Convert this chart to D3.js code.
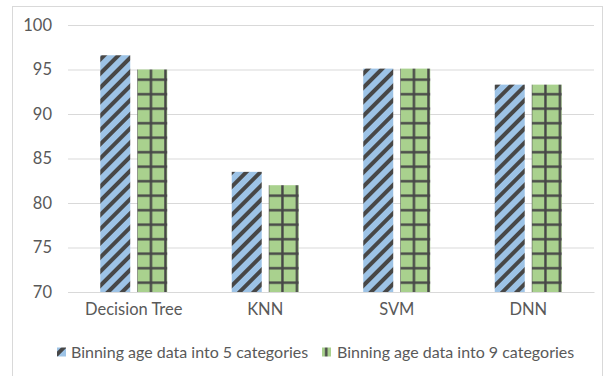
<!DOCTYPE html>
<html>
<head>
<meta charset="utf-8">
<script src="https://cdn.jsdelivr.net/npm/d3@7"></script>
<style>
  html, body { margin: 0; padding: 0; background: #fff; }
  svg { display: block; font-family: Lato, "Open Sans", sans-serif; }
</style>
</head>
<body>
<svg id="chart" width="614" height="376"></svg>
<script>
// Model accuracy (%) for two age-binning strategies
const categories = ["Decision Tree", "KNN", "SVM", "DNN"];
const seriesNames = ["Binning age data into 5 categories", "Binning age data into 9 categories"];
const fiveBins = [96.6, 83.5, 95.1, 93.3];
const nineBins = [95.0, 82.0, 95.1, 93.3];
const yTicks = [70, 75, 80, 85, 90, 95, 100];

const svg = d3.select("#chart");
const W = 614, H = 376;
const plot = { left: 68, right: 594, top: 25, bottom: 292 };
const fontSize = "16.5px";

// chart frame
svg.append("rect")
  .attr("x", 12.5).attr("y", 6.5)
  .attr("width", 590).attr("height", H)
  .attr("fill", "#fff").attr("stroke", "#d9d9d9").attr("stroke-width", 1);

// fill patterns
const defs = svg.append("defs");
const stripe = defs.append("pattern")
  .attr("id", "stripe").attr("patternUnits", "userSpaceOnUse")
  .attr("width", 10).attr("height", 10)
  .attr("patternTransform", "rotate(45)");
stripe.append("rect").attr("width", 10).attr("height", 10).attr("fill", "#9dc3e6");
stripe.append("rect").attr("width", 4).attr("height", 10).attr("fill", "#474747");

const grid = defs.append("pattern")
  .attr("id", "grid").attr("patternUnits", "userSpaceOnUse")
  .attr("width", 14.5).attr("height", 14.5);
grid.append("rect").attr("width", 14.5).attr("height", 14.5).attr("fill", "#a9d18e");
grid.append("rect").attr("x", 6).attr("width", 2.4).attr("height", 14.5).attr("fill", "#474747");
grid.append("rect").attr("y", 6).attr("width", 14.5).attr("height", 2.4).attr("fill", "#474747");

const fills = ["url(#stripe)", "url(#grid)"];

const y = d3.scaleLinear().domain([70, 100]).range([plot.bottom, plot.top]);
const x0 = d3.scaleBand().domain(categories).range([plot.left, plot.right]);
const x1 = d3.scaleBand().domain(seriesNames).range([0, 67]).paddingInner(0.19);

// gridlines + y labels
const yAxis = d3.axisLeft(y).tickValues(yTicks).tickSize(-(plot.right - plot.left)).tickPadding(16);
const gy = svg.append("g").attr("transform", `translate(${plot.left},0)`).call(yAxis);
gy.select(".domain").remove();
gy.selectAll(".tick line").attr("stroke", "#d9d9d9").attr("stroke-width", 1);
gy.selectAll(".tick text").attr("fill", "#595959").style("font-size", fontSize).style("font-family", "Lato, sans-serif");

// bars
const rows = categories.map((c, i) => ({ cat: c, vals: [fiveBins[i], nineBins[i]] }));
const groups = svg.append("g").selectAll("g").data(rows).join("g")
  .attr("transform", d => `translate(${x0(d.cat) + (x0.bandwidth() - 67) / 2},0)`);
groups.selectAll("rect")
  .data(d => d.vals.map((v, j) => ({ v, s: seriesNames[j], j })))
  .join("rect")
  .attr("x", d => x1(d.s))
  .attr("width", x1.bandwidth())
  .attr("y", d => y(d.v))
  .attr("height", d => y(70) - y(d.v))
  .attr("fill", d => fills[d.j]);

// category labels (bottom edge trimmed by the label strip)
defs.append("clipPath").attr("id", "labclip")
  .append("rect").attr("x", 0).attr("y", 0).attr("width", W).attr("height", 321);
const labelLayer = svg.append("g").attr("clip-path", "url(#labclip)");
const xAxis = d3.axisBottom(x0).tickSize(0).tickPadding(11);
const gx = labelLayer.append("g").attr("transform", `translate(0,${plot.bottom})`).call(xAxis);
gx.select(".domain").attr("stroke", "#d9d9d9");
gx.selectAll(".tick text").attr("fill", "#595959").style("font-size", fontSize).style("font-family", "Lato, sans-serif");

// legend
const legend = svg.append("g").attr("transform", "translate(0,352)");
const swatchX = [57, 322];
const textX = [71, 337];
seriesNames.forEach((name, j) => {
  legend.append("rect").attr("x", swatchX[j]).attr("y", -4.5).attr("width", 9).attr("height", 9).attr("fill", fills[j]);
  legend.append("text").attr("x", textX[j]).attr("y", 0).attr("dy", "0.35em")
    .attr("fill", "#595959").style("font-size", "16px").text(name);
});
</script>
</body>
</html>
